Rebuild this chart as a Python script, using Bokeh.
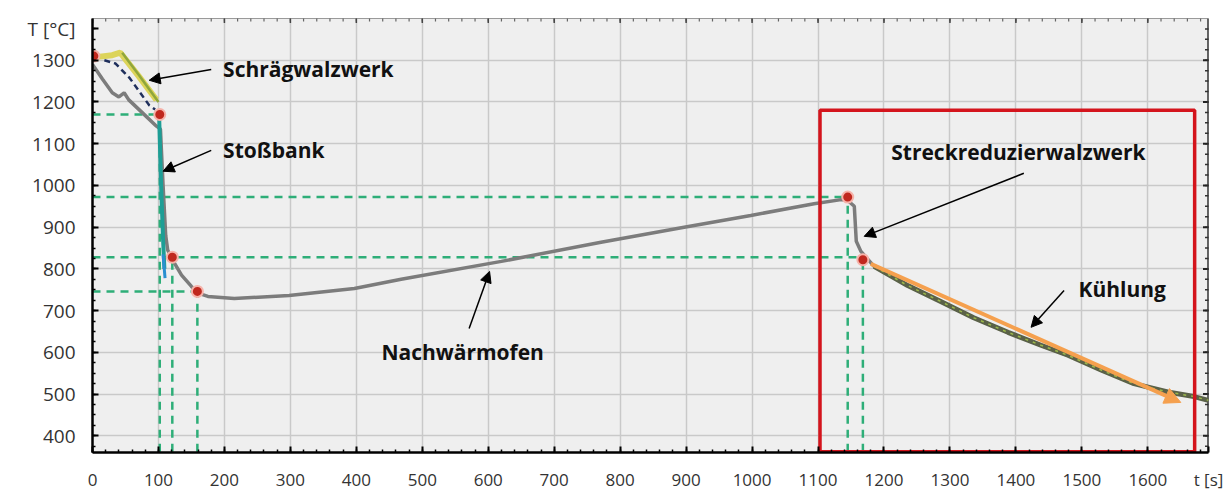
import math
from bokeh.plotting import figure
from bokeh.models import FixedTicker, Arrow, NormalHead
from bokeh.core.properties import value
from bokeh.embed import file_html
from bokeh.resources import INLINE

# ---- data ----
x_ticks = list(range(0, 1700, 100))
y_ticks = list(range(400, 1400, 100))
x_minor = list(range(0, 1700, 20))
y_minor = list(range(375, 1400, 25))

main_t = [0, 15, 30, 40, 48, 55, 75, 97, 103, 107, 111, 114, 120, 135, 150, 160, 175, 215,
          298, 397, 468, 620, 771, 897, 998, 1094, 1135, 1145, 1155, 1158, 1165, 1185,
          1236, 1286, 1336, 1388, 1438, 1479, 1530, 1579, 1630, 1670, 1692]
main_T = [1290, 1255, 1222, 1212, 1222, 1205, 1175, 1142, 1135, 1000, 880, 845, 825, 785,
          758, 742, 734, 729, 736, 753, 775, 818, 864, 900, 928, 956, 966, 964, 950,
          866, 842, 806, 760, 722, 683, 648, 617, 593, 557, 525, 505, 494, 485]

cool_t = [1185, 1236, 1286, 1336, 1388, 1438, 1479, 1530, 1579, 1630, 1670, 1692]
cool_T = [806, 760, 722, 683, 648, 617, 593, 557, 525, 505, 494, 485]

yellow_t = [8, 30, 42, 70, 97]
yellow_T = [1308, 1312, 1318, 1262, 1205]
olive_t = [45, 70, 100]
olive_T = [1318, 1265, 1200]
navy_t = [18, 35, 56, 86, 95]
navy_T = [1300, 1292, 1258, 1192, 1182]
teal_t = [101, 104, 107, 109]
teal_T = [1168, 1000, 870, 800]
blue_t = [107, 110]
blue_T = [835, 778]

dot_t = [2, 102, 121, 159, 1145, 1168]
dot_T = [1310, 1170, 828, 746, 972, 822]

# reference guide lines (horizontal: level, end time; vertical: time, top level)
h_level = [1170, 972, 828, 746]
h_end = [102, 1145, 1168, 159]
v_time = [102, 121, 159, 1145, 1168]
v_top = [1170, 828, 746, 972, 822]

kuehl_start = (1180, 812)
kuehl_end = (1650, 480)

box_t = [1103, 1671]
box_T = [362, 1180]

labels = ["Schrägwalzwerk", "Stoßbank", "Nachwärmofen", "Streckreduzierwalzwerk", "Kühlung"]
label_t = [198, 198, 438, 1211, 1495]
label_T = [1278, 1084, 602, 1079, 751]
arrow_tail_t = [180, 180, 571, 1412, 1473]
arrow_tail_T = [1278, 1084, 657, 1029, 748]
arrow_head_t = [86, 107, 602, 1170, 1423]
arrow_head_T = [1252, 1034, 794, 878, 660]

y_title = "T [°C]"
x_title = "t [s]"

X_MAX, Y_MIN, Y_MAX = 1692, 360, 1400
Y_TITLE_POS = 1376

# ---- figure ----
p = figure(width=1232, height=493, x_range=(0, X_MAX), y_range=(Y_MIN, Y_MAX),
           output_backend="svg", toolbar_location=None,
           min_border_left=92, min_border_right=24, min_border_top=18, min_border_bottom=38,
           background_fill_color="#efefef", border_fill_color="white")
p.outline_line_color = "#9a9a9a"
p.outline_line_width = 1

p.xgrid.ticker = FixedTicker(ticks=x_ticks)
p.ygrid.ticker = FixedTicker(ticks=y_ticks)
p.grid.grid_line_color = "#c9c9c9"
p.grid.grid_line_width = 1.5

xa = p.xaxis[0]
xa.ticker = FixedTicker(ticks=x_ticks + [X_MAX], minor_ticks=x_minor)
xa.major_label_overrides = {X_MAX: x_title}
ya = p.yaxis[0]
ya.ticker = FixedTicker(ticks=y_ticks + [Y_TITLE_POS], minor_ticks=y_minor)
ya.major_label_overrides = {Y_TITLE_POS: y_title}
for ax in (xa, ya):
    ax.axis_line_color = "black"
    ax.axis_line_width = 2.5
    ax.major_tick_in = 6
    ax.major_tick_out = 0
    ax.minor_tick_in = 3
    ax.minor_tick_out = 0
    ax.major_tick_line_color = "black"
    ax.minor_tick_line_color = "black"
    ax.major_tick_line_width = 2
    ax.minor_tick_line_width = 1.5
    ax.major_label_text_color = "#333333"
    ax.major_label_text_font = "Open Sans"
xa.major_label_text_font_size = "17px"
xa.major_label_standoff = 15
ya.major_label_text_font_size = "19px"
ya.major_label_standoff = 17

# tick marks on the right and top edges (half of each dash is inside the frame)
p.scatter([X_MAX] * len(y_minor), y_minor, marker="dash", size=7, line_color="#333333", line_width=1.5)
p.scatter([X_MAX] * len(y_ticks), y_ticks, marker="dash", size=11, line_color="#222222", line_width=2)
p.scatter(x_minor, [Y_MAX] * len(x_minor), marker="dash", angle=math.pi / 2, size=6,
          line_color="#666666", line_width=1.2)
p.scatter(x_ticks, [Y_MAX] * len(x_ticks), marker="dash", angle=math.pi / 2, size=9,
          line_color="#444444", line_width=1.5)
p.line([X_MAX, X_MAX], [Y_MIN, Y_MAX], line_color="#333333", line_width=2.5)

# guide dashed lines
green = "#2eae78"
for lvl, end in zip(h_level, h_end):
    p.line([0, end], [lvl, lvl], line_color=green, line_width=2.5, line_dash="8 6")
for tt, top in zip(v_time, v_top):
    p.line([tt, tt], [Y_MIN + 2, top], line_color=green, line_width=2.5, line_dash="8 6")

# curves
p.line(yellow_t, yellow_T, line_color="#dcd45a", line_width=6)
p.line(olive_t, olive_T, line_color="#8fa63c", line_width=2.5)
p.line(navy_t, navy_T, line_color="#1f2f5c", line_width=2.5, line_dash="6 4")
p.line(main_t, main_T, line_color="#7c7c7c", line_width=3.5)
p.line(cool_t, cool_T, line_color="#5a6148", line_width=5)
p.line(cool_t, cool_T, line_color="#9bb84a", line_width=1.5, line_dash="3 5")
p.line(teal_t, teal_T, line_color="#1e9e96", line_width=4)
p.line(blue_t, blue_T, line_color="#2a8fd0", line_width=3)

# Kühlung orange arrow
p.add_layout(Arrow(end=NormalHead(size=16, fill_color="#f5a04e", line_color="#f5a04e"),
                   x_start=kuehl_start[0], y_start=kuehl_start[1],
                   x_end=kuehl_end[0], y_end=kuehl_end[1],
                   line_color="#f5a04e", line_width=4))

# red points
p.scatter(dot_t, dot_T, size=11, fill_color="#c0281e", line_color="#f6b3aa", line_width=2)

# red box
p.line([box_t[0], box_t[1], box_t[1], box_t[0], box_t[0]],
       [box_T[0], box_T[0], box_T[1], box_T[1], box_T[0]],
       line_color="#d4141c", line_width=3.5)

# annotation arrows and labels
for tt, tT, ht, hT in zip(arrow_tail_t, arrow_tail_T, arrow_head_t, arrow_head_T):
    p.add_layout(Arrow(end=NormalHead(size=11, fill_color="black", line_color="black"),
                       x_start=tt, y_start=tT, x_end=ht, y_end=hT,
                       line_color="black", line_width=1.5))
p.text(x=label_t, y=label_T, text=labels, text_font=value("Open Sans"),
       text_font_style="bold", text_font_size="21px", text_color="#111111",
       text_baseline="middle", text_align="left")

open("out.html", "w").write(file_html(p, INLINE))
